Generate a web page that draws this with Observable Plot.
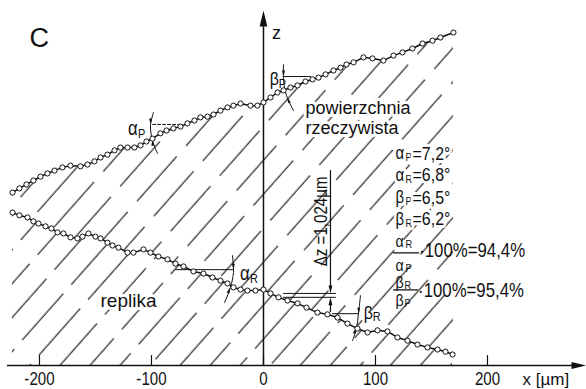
<!DOCTYPE html>
<html><head><meta charset="utf-8">
<script src="https://cdn.jsdelivr.net/npm/d3@7"></script>
<script src="https://cdn.jsdelivr.net/npm/@observablehq/plot@0.6"></script>
<style>body{margin:0;background:#fff} svg{display:block}</style>
</head><body><div id="chart"></div>
<script>
// ---- data (x in µm, z in arbitrary profile units) ----
const xTicks = [-200, -100, 0, 100, 200];
const xTickLabels = ["-200", "-100", "0", "100", "200"];

const upperX = [-224.1,-217.9,-211.6,-205.4,-199.1,-192.9,-186.6,-179.5,-172.3,-163.4,-157.1,-150.9,-145.5,-139.3,-133.0,-127.7,-121.4,-115.2,-109.8,-104.5,-99.1,-92.0,-86.6,-80.4,-74.1,-67.9,-61.6,-56.3,-50.0,-44.6,-38.4,-32.1,-26.8,-20.5,-11.6,-5.4,0,6.3,12.5,17.9,24.1,30.4,37.5,43.8,49.1,55.4,62.5,68.8,74.1,80.4,89.3,97.3,107.1,116.1,124.1,133.0,142.0,150.9,158.0,169.6];
const upperZ = [48.7,49.9,51.0,52.1,53.2,54.1,54.9,55.8,56.3,56.1,56.6,57.5,58.6,59.4,60.6,61.4,61.4,61.4,62.0,63.1,63.9,65.4,66.2,66.8,67.3,68.2,69.0,69.9,70.1,70.7,71.8,72.7,73.2,73.8,73.2,73.2,74.1,75.5,76.9,77.5,78.3,78.9,80.0,80.6,81.1,82.0,83.1,83.9,84.8,85.4,86.8,86.5,85.9,87.3,88.2,89.3,90.7,91.5,92.4,93.8];

const lowerX = [-224.1,-217.9,-210.7,-205.4,-200.9,-194.6,-189.3,-183.9,-178.6,-172.3,-166.1,-161.6,-156.3,-150.0,-145.5,-139.3,-134.8,-129.5,-121.4,-116.1,-107.1,-100.9,-93.8,-85.7,-78.6,-71.4,-62.5,-53.6,-45.5,-38.4,-32.1,-26.8,-20.5,-14.3,-7.1,0,6.3,13.4,21.4,30.4,38.4,48.2,57.1,66.1,75.0,83.9,92.9,101.8,110.7,119.6,128.6,137.5,146.4,155.4,162.5,168.8];
const lowerZ = [43.1,42.3,41.7,40.6,40.0,39.2,38.6,37.5,37.2,36.1,35.8,36.3,37.2,36.3,35.8,34.6,33.8,33.2,31.8,31.8,32.7,31.8,30.7,29.9,28.7,27.9,26.5,25.9,24.8,23.9,23.1,22.0,21.4,21.1,21.1,21.4,20.3,19.2,18.3,17.5,16.3,14.9,14.4,13.5,11.8,10.4,9.3,9.9,9.6,7.9,7.0,5.9,5.1,4.5,3.9,3.1];

const paramSymbols = ["α", "α", "β", "β"];
const paramSubs = ["P", "R", "P", "R"];
const paramValues = ["=7,2°", "=6,8°", "=6,5°", "=6,2°"];
const paramRowZ = [59.7, 53.6, 47.3, 41.2];
const ratioTexts = ["·100%=94,4%", "·100%=95,4%"];

const upper = upperX.map((x, i) => ({x, z: upperZ[i]}));
const lower = lowerX.map((x, i) => ({x, z: lowerZ[i]}));
const params = paramSymbols.map((s, i) => ({s, sub: paramSubs[i], v: paramValues[i], z: paramRowZ[i]}));

// "narrowx" is a marker family name (not installed): texts using it are condensed after rendering
const NARROW = "narrowx,'Liberation Sans',Arial,sans-serif";
const SANS = "'Liberation Sans',Arial,sans-serif";
const halo = {stroke: "white", strokeWidth: 6};
const INK = "#111";

// narrow filled arrowhead; tip at the anchor point, pointing up before rotation
const arrowHead = {
  draw(ctx, size) {
    const r = Math.sqrt(size / Math.PI);
    ctx.moveTo(0, 0);
    ctx.lineTo(-r * 0.24, r);
    ctx.lineTo(r * 0.24, r);
    ctx.closePath();
  }
};
const head = (x, z, rot, r) => Plot.dot([0], {x, y: z, symbol: arrowHead, r, rotate: rot, fill: INK, stroke: "none"});

const T = (txt, x, z, o = {}) => Plot.text([txt], {x, y: z, text: d => d, fill: INK, fontFamily: NARROW, fontSize: 18, textAnchor: "start", ...o});
const seg = (pts, o = {}) => Plot.line(pts, {x: "0", y: "1", stroke: INK, strokeWidth: 1, ...o});

const chart = Plot.plot({
  width: 586, height: 389,
  marginLeft: 0, marginRight: 0, marginTop: 0, marginBottom: 24,
  x: {domain: [-234.8, 288.4], axis: null},
  y: {domain: [0, 102.82], axis: null},
  style: {background: "white", overflow: "visible"},
  marks: [
    // hatching
    Plot.areaY(upper, {x: "x", y1: 0, y2: "z", fill: "url(#hatchA)"}),
    Plot.areaY(lower, {x: "x", y1: 0, y2: "z", fill: "white"}),
    Plot.areaY(lower, {x: "x", y1: 0, y2: "z", fill: "url(#hatchB)"}),

    // axes
    Plot.ruleY([0], {x1: -228.6, x2: 284, stroke: INK, strokeWidth: 1.5}),
    head(288.4, 0, 90, 15),
    Plot.ruleX([0], {y1: 0, y2: 97, stroke: INK, strokeWidth: 1.5}),
    head(0, 100, 0, 16),
    Plot.ruleX(xTicks, {x: d => d, y1: 0, y2: 2.8, stroke: INK, strokeWidth: 1.2}),
    Plot.text(xTicks, {x: d => d, y: 0, dy: 14, text: (d, i) => xTickLabels[i], fill: INK, fontFamily: NARROW, fontSize: 18}),
    T("x [µm]", 231.3, 0, {dy: 14, fontFamily: SANS, fontSize: 17}),
    T("z", 7.5, 93.5, {fontFamily: SANS, fontSize: 18}),
    T("C", -209, 92.1, {fontFamily: SANS, fontSize: 27}),

    // angle constructions
    seg([[-99, 67.9], [-76, 67.9]], {strokeDasharray: "3,2"}),
    seg([[-98.2, 71.3], [-100.9, 67.6], [-99.1, 63.4], [-94.6, 59.7]], {curve: "catmull-rom"}),
    head(-100.8, 67.9, 180, 6), head(-98.9, 63.6, 0, 6),
    seg([[17.9, 81.4], [42, 81.4]]),
    seg([[17.9, 84.8], [17.9, 80.3], [20.5, 76.1], [26.8, 71.8]], {curve: "catmull-rom"}),
    head(17.9, 81.4, 180, 6), head(21.3, 75.6, -20, 6),
    seg([[-78.6, 27.0], [-26.8, 27.0]]),
    seg([[-27.7, 31.0], [-26.8, 26.2], [-29.5, 22.0], [-34.8, 17.7]], {curve: "catmull-rom"}),
    head(-26.9, 27.0, 180, 6), head(-29.8, 22.0, 20, 6),
    seg([[61.6, 14.6], [84.8, 14.6]]),
    seg([[86.6, 19.7], [84.8, 14.6], [83.0, 10.4], [79.5, 7.0]], {curve: "catmull-rom"}),
    head(85, 14.6, 180, 6), head(82.8, 10.6, 20, 6),

    // Δz dimension
    seg([[17.9, 20.3], [64.3, 20.3]]),
    seg([[17.9, 19.2], [64.3, 19.2]]),
    Plot.ruleX([59.8], {y1: 54.9, y2: 22, stroke: INK, strokeWidth: 1.2}),
    head(59.8, 20.3, 180, 8),
    Plot.ruleX([59.8], {y1: 14.9, y2: 17.5, stroke: INK, strokeWidth: 1.2}),
    head(59.8, 19.2, 0, 8),
    T("Δz =1,024µm", 51.5, 40.6, {rotate: -90, textAnchor: "middle", fontSize: 18}),

    // profiles
    Plot.line(upper, {x: "x", y: "z", stroke: INK, strokeWidth: 1.5}),
    Plot.dot(upper, {x: "x", y: "z", r: 2.6, fill: "white", stroke: INK, strokeWidth: 1}),
    Plot.line(lower, {x: "x", y: "z", stroke: INK, strokeWidth: 1.5}),
    Plot.dot(lower, {x: "x", y: "z", r: 2.6, fill: "white", stroke: INK, strokeWidth: 1}),

    // angle labels
    T("α", -121, 66.8, {fontSize: 20}),
    T("P", -121, 66.8, {dx: 10, dy: 5, fontSize: 13}),
    T("β", 5.5, 80.6, {fontSize: 19}),
    T("P", 5.5, 80.6, {dx: 9, dy: 4, fontSize: 13}),
    T("α", -21, 25.9, {fontSize: 20}),
    T("R", -21, 25.9, {dx: 10, dy: 5, fontSize: 13}),
    T("β", 89.5, 14.9, {fontSize: 19}),
    T("R", 89.5, 14.9, {dx: 9, dy: 4, fontSize: 13}),

    // labels
    T("powierzchnia", 37.5, 72.4, {fontFamily: SANS, fontSize: 18, ...halo}),
    T("rzeczywista", 37.5, 66.8, {fontFamily: SANS, fontSize: 18, ...halo}),
    T("replika", -145.5, 18.3, {fontFamily: SANS, fontSize: 19, ...halo}),

    // parameter block
    Plot.text(params, {x: 117.9, y: "z", text: "s", fill: INK, fontFamily: NARROW, fontSize: 18, textAnchor: "start", ...halo}),
    Plot.text(params, {x: 117.9, y: "z", text: "sub", dx: 10, dy: 4, fill: INK, fontFamily: NARROW, fontSize: 11, textAnchor: "start", ...halo}),
    Plot.text(params, {x: 117.9, y: "z", text: "v", dx: 17, fill: INK, fontFamily: NARROW, fontSize: 19, textAnchor: "start", ...halo}),

    // ratios
    T("α", 117.9, 34.8, {fontSize: 17}), T("R", 117.9, 34.8, {dx: 10, dy: 3, fontSize: 11}),
    seg([[116.1, 31.7], [138.4, 31.7]], {strokeWidth: 1.2}),
    T("α", 117.9, 28.2, {fontSize: 17}), T("P", 117.9, 28.2, {dx: 10, dy: 3, fontSize: 11}),
    T(ratioTexts[0], 139, 32.4, {fontSize: 20}),
    T("β", 117.9, 23.4, {fontSize: 17}), T("R", 117.9, 23.4, {dx: 9, dy: 3, fontSize: 11}),
    seg([[116.1, 21.3], [137.5, 21.3]], {strokeWidth: 1.2}),
    T("β", 117.9, 18.3, {fontSize: 17}), T("P", 117.9, 18.3, {dx: 9, dy: 3, fontSize: 11}),
    T(ratioTexts[1], 138, 21.1, {fontSize: 20})
  ]
});

d3.select(chart).insert("defs", ":first-child").html(`
  <pattern id="hatchA" patternUnits="userSpaceOnUse" width="22.5" height="370" patternTransform="rotate(41.5)">
    <line x1="11" y1="0" x2="11" y2="370" stroke="#111" stroke-width="1.1" stroke-dasharray="60 14"/>
  </pattern>
  <pattern id="hatchB" patternUnits="userSpaceOnUse" width="22.5" height="370" patternTransform="rotate(41.5) translate(6,30)">
    <line x1="11" y1="0" x2="11" y2="370" stroke="#111" stroke-width="1.1" stroke-dasharray="62 12"/>
  </pattern>`);

// condense the hand-lettered numeric texts (no condensed font is installed)
d3.select(chart).selectAll("g[font-family^='narrowx'] text").each(function () {
  const t = this.getAttribute("transform") || "";
  this.setAttribute("transform", (t + " scale(0.84,1)").trim());
});

document.getElementById("chart").appendChild(chart);
</script>
</body></html>
